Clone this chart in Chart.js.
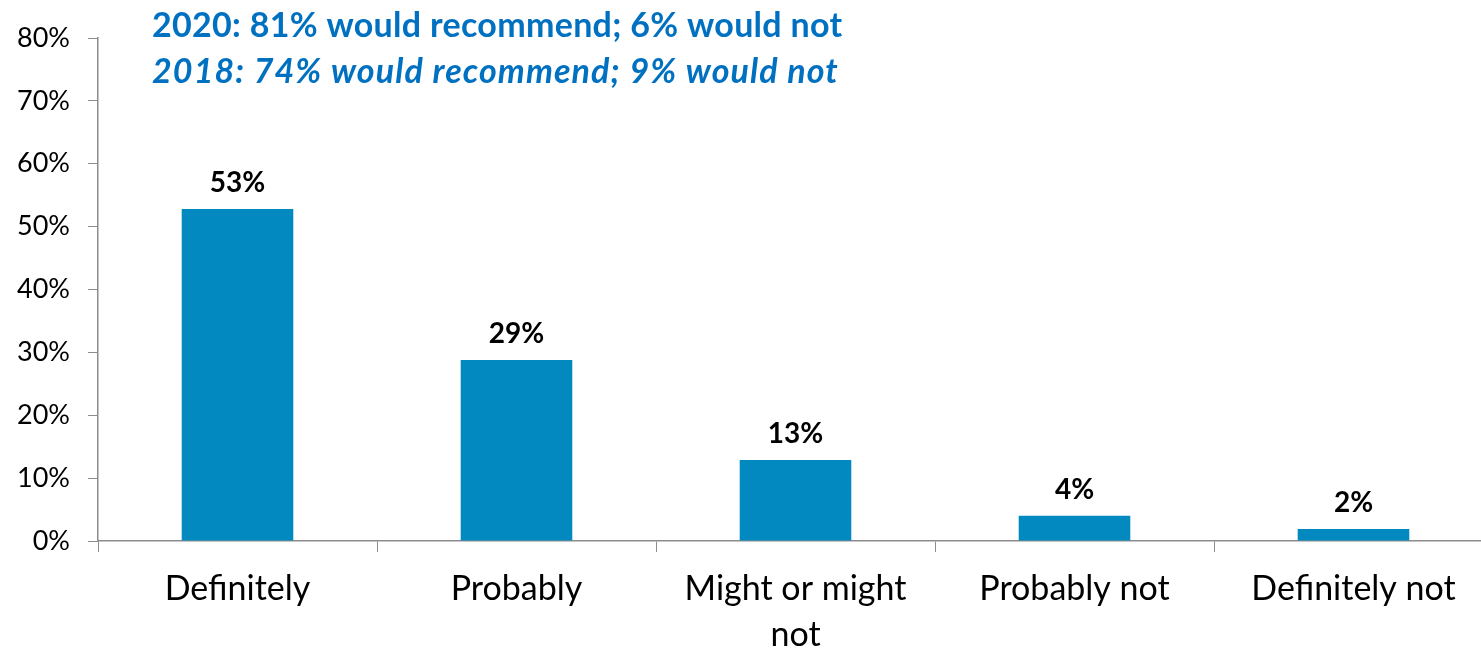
<!DOCTYPE html>
<html>
<head>
<meta charset="utf-8">
<script src="https://cdn.jsdelivr.net/npm/chart.js@4/dist/chart.umd.min.js"></script>
<style>
  html, body { margin: 0; padding: 0; background: #fff; overflow: hidden; }
  #wrap { width: 1481px; height: 648px; overflow: hidden; position: relative; }
  #box { width: 1500px; height: 648px; }
</style>
</head>
<body>
<div id="wrap"><div id="box"><canvas id="chart"></canvas></div></div>
<script>
const categories = ["Definitely", "Probably", ["Might or might", "not"], "Probably not", "Definitely not"];
const shares = [52.8, 28.8, 12.9, 4.0, 1.9];
const shareLabels = ["53%", "29%", "13%", "4%", "2%"];
const headline = [
  "2020: 81% would recommend; 6% would not",
  "2018: 74% would recommend; 9% would not"
];

const FONT = "Lato, 'Open Sans', sans-serif";
const AXIS_GREY = "#8c8c8c";

// bar value labels + the two headline lines
const annotate = {
  id: "annotate",
  afterDatasetsDraw(chart) {
    const ctx = chart.ctx;
    const meta = chart.getDatasetMeta(0);
    ctx.save();
    ctx.fillStyle = "#000";
    ctx.font = "bold 28px " + FONT;
    ctx.textAlign = "center";
    ctx.textBaseline = "alphabetic";
    meta.data.forEach((bar, i) => {
      ctx.fillText(shareLabels[i], bar.x, bar.y - 17);
    });

    ctx.fillStyle = "#0070c0";
    ctx.textAlign = "left";
    ctx.font = "bold 34px " + FONT;
    ctx.letterSpacing = "0.3px";
    ctx.fillText(headline[0], 152, 37);
    ctx.font = "italic bold 34px " + FONT;
    ctx.letterSpacing = "1.1px";
    ctx.fillText(headline[1], 152, 83);
    ctx.letterSpacing = "0px";
    ctx.restore();
  }
};

new Chart(document.getElementById("chart"), {
  type: "bar",
  data: {
    labels: categories,
    datasets: [{
      data: shares,
      backgroundColor: "#028ac0",
      categoryPercentage: 1,
      barPercentage: 0.4
    }]
  },
  options: {
    responsive: true,
    maintainAspectRatio: false,
    animation: false,
    layout: { padding: { top: 38, right: 7, left: 0, bottom: 0 } },
    plugins: {
      legend: { display: false },
      tooltip: { enabled: false },
      title: { display: false }
    },
    scales: {
      x: {
        grid: {
          offset: true,
          drawOnChartArea: false,
          drawTicks: true,
          tickLength: 11,
          color: AXIS_GREY
        },
        border: { display: true, color: AXIS_GREY, width: 1.5 },
        ticks: {
          color: "#000",
          font: { family: FONT, size: 34, lineHeight: 1.35 },
          padding: 14,
          maxRotation: 0,
          autoSkip: false
        },
        afterFit(scale) { scale.height = 107; }
      },
      y: {
        min: 0,
        max: 80,
        grid: {
          drawOnChartArea: false,
          drawTicks: true,
          tickLength: 10,
          color: AXIS_GREY
        },
        border: { display: true, color: AXIS_GREY, width: 1.5 },
        ticks: {
          stepSize: 10,
          color: "#000",
          font: { family: FONT, size: 27 },
          padding: 18,
          callback: v => v + "%"
        },
        afterFit(scale) { scale.width = 98; }
      }
    }
  },
  plugins: [annotate]
});
</script>
</body>
</html>
